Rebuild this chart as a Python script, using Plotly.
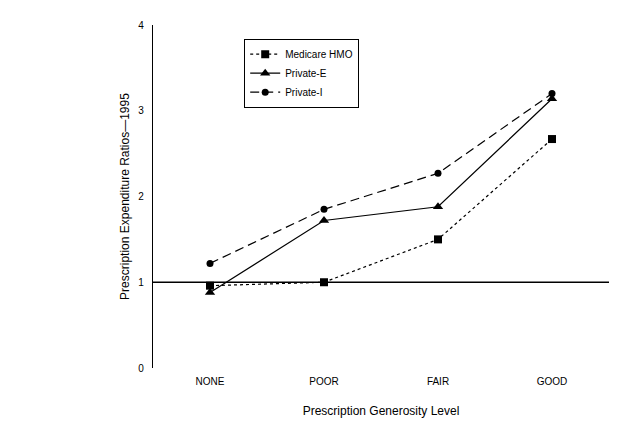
import plotly.graph_objects as go

# Prescription expenditure ratios by generosity level (1995)
categories = ["NONE", "POOR", "FAIR", "GOOD"]
medicare_hmo = [0.96, 1.00, 1.50, 2.67]
private_e = [0.88, 1.72, 1.88, 3.14]
private_i = [1.22, 1.85, 2.27, 3.20]
y_ticks = [0, 1, 2, 3, 4]

x_pos = list(range(len(categories)))

fig = go.Figure()

fig.add_trace(go.Scatter(
    x=x_pos, y=medicare_hmo, name="Medicare HMO", mode="lines+markers",
    line=dict(color="black", width=1.2, dash="3px,3px"),
    marker=dict(symbol="square", size=8, color="black"),
))
fig.add_trace(go.Scatter(
    x=x_pos, y=private_e, name="Private-E", mode="lines+markers",
    line=dict(color="black", width=1.2),
    marker=dict(symbol="triangle-up", size=9, color="black"),
))
fig.add_trace(go.Scatter(
    x=x_pos, y=private_i, name="Private-I", mode="lines+markers",
    line=dict(color="black", width=1.2, dash="9px,5px"),
    marker=dict(symbol="circle", size=7, color="black"),
))

# reference line at ratio 1
fig.add_shape(type="line", xref="x", yref="y", x0=-0.5, x1=3.5, y0=1, y1=1,
              line=dict(color="black", width=1.3), layer="below")

# page body adds an 8px offset, so margins are shifted to compensate
fig.update_layout(
    width=640, height=446,
    margin=dict(l=145, r=39, t=17, b=86),
    paper_bgcolor="white", plot_bgcolor="white",
    font=dict(family="Liberation Sans, Arial, sans-serif", size=10, color="black"),
    showlegend=True,
    legend=dict(
        x=0.2, y=0.96, xanchor="left", yanchor="top",
        bordercolor="black", borderwidth=1, bgcolor="white",
        font=dict(size=10), tracegroupgap=0,
    ),
    xaxis=dict(
        range=[-0.5, 3.5], tickvals=x_pos, ticktext=categories,
        showline=False, showgrid=False, zeroline=False, ticks="",
        ticklabelstandoff=6, automargin=False,
        title=dict(text="Prescription Generosity Level", font=dict(size=12), standoff=20),
    ),
    yaxis=dict(
        range=[0, 4], tickvals=y_ticks,
        showline=True, linecolor="black", linewidth=1.3,
        showgrid=False, zeroline=False, ticks="",
        ticklabelstandoff=6, automargin=False,
        title=dict(text="Prescription Expenditure Ratios\u20141995", font=dict(size=12), standoff=6),
    ),
)

fig.write_html("out.html")
